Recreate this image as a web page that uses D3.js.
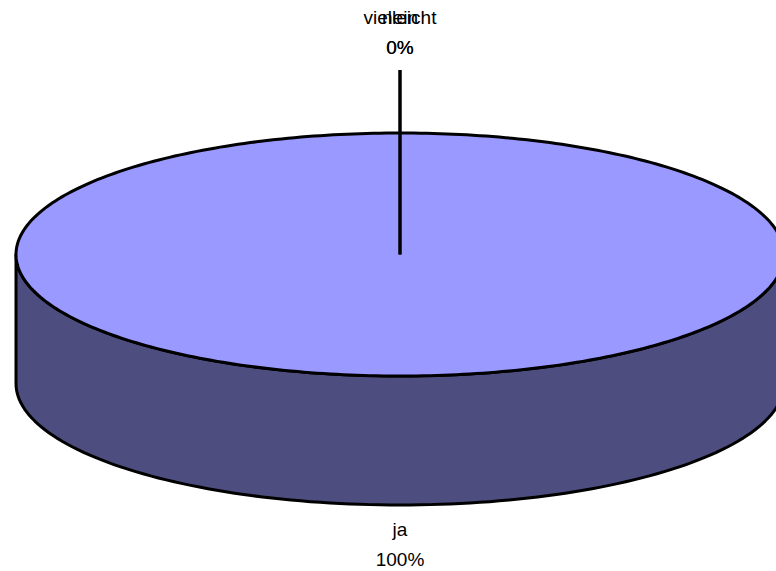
<!DOCTYPE html>
<html><head><meta charset="utf-8">
<script src="https://cdn.jsdelivr.net/npm/d3@7"></script>
<style>html,body{margin:0;padding:0;background:#fff;overflow:hidden}</style>
</head><body>
<svg id="c" width="776" height="571"></svg>
<script>
const categories = ["ja", "nein", "vielleicht"];
const values = [100, 0, 0];
const percentLabels = ["100%", "0%", "0%"];

const svg = d3.select("#c");
const cx = 400, cy = 254.5, rx = 384, ry = 121.5, depth = 129;
const topColor = "#9999FF", sideColor = "#4D4D7F";

const data = categories.map((c, i) => ({ name: c, value: values[i], pct: percentLabels[i] }));
const pie = d3.pie().sort(null).value(d => d.value);
const arcs = pie(data);

// ellipse angle -> point (angle 0 at top, clockwise)
const pt = (a, dy = 0) => [cx + rx * Math.sin(a), cy - ry * Math.cos(a) + dy];

// side wall (front half)
const sampleN = 120;
const front = d3.range(sampleN + 1).map(i => Math.PI / 2 + Math.PI * i / sampleN); // right -> left along bottom
let sidePts = front.map(a => pt(a, depth));
sidePts = sidePts.concat(front.slice().reverse().map(a => pt(a)));
svg.append("path")
  .attr("d", d3.line()(sidePts) + "Z")
  .attr("fill", sideColor).attr("stroke", "#000").attr("stroke-width", 3).attr("stroke-linejoin", "round");

// top slices
arcs.forEach(a => {
  if (a.endAngle - a.startAngle <= 0) return;
  const n = Math.max(2, Math.ceil((a.endAngle - a.startAngle) / (2 * Math.PI) * 360));
  const pts = d3.range(n + 1).map(i => pt(a.startAngle + (a.endAngle - a.startAngle) * i / n));
  const full = a.endAngle - a.startAngle >= 2 * Math.PI - 1e-6;
  const d = full ? d3.line()(pts) + "Z" : "M" + cx + "," + cy + "L" + d3.line()(pts).slice(1) + "Z";
  svg.append("path").attr("d", d)
    .attr("fill", topColor).attr("stroke", "#000").attr("stroke-width", 3).attr("stroke-linejoin", "round");
});

// labels
const font = "Liberation Sans, Arial, sans-serif";
arcs.forEach(a => {
  const mid = (a.startAngle + a.endAngle) / 2;
  let lx, ly;
  if (a.value === 0) {
    // leader line for zero slices at top
    svg.append("line").attr("x1", cx).attr("y1", cy).attr("x2", cx).attr("y2", 70)
      .attr("stroke", "#000").attr("stroke-width", 3);
    lx = cx; ly = 24;
  } else {
    lx = cx + rx * Math.sin(mid) * 0; ly = 536;
  }
  const g = svg.append("g").attr("font-family", font).attr("font-size", 19).attr("text-anchor", "middle").attr("fill", "#000");
  g.append("text").attr("x", lx).attr("y", ly).text(a.data.name);
  g.append("text").attr("x", lx).attr("y", ly + 30).text(a.data.pct);
});
</script>
</body></html>
